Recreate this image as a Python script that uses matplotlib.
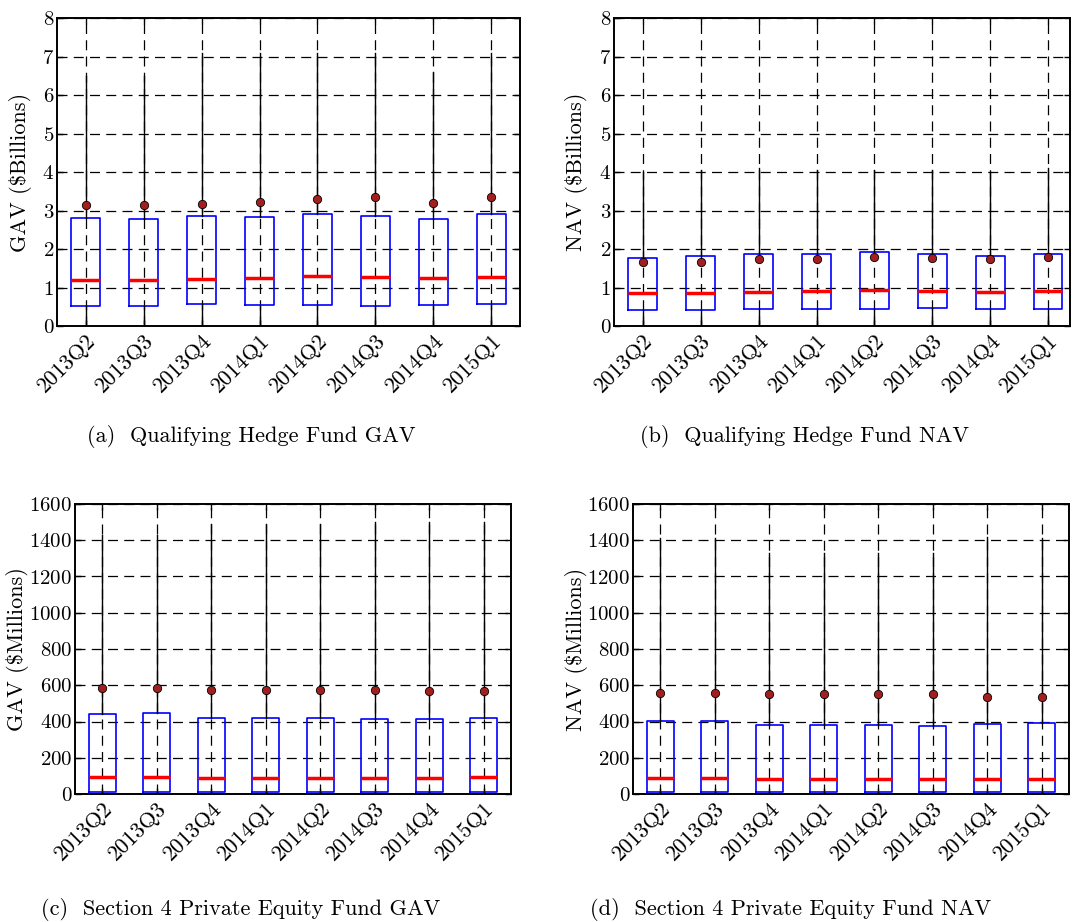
import numpy as np
import matplotlib
matplotlib.use('Agg')
import matplotlib.pyplot as plt

plt.rcParams['font.family'] = ['cmr10', 'DejaVu Serif']
plt.rcParams['axes.unicode_minus'] = False
plt.rcParams['axes.formatter.use_mathtext'] = True

# Data
quarters = ['2013Q2', '2013Q3', '2013Q4', '2014Q1', '2014Q2', '2014Q3', '2014Q4', '2015Q1']

# (a) Qualifying Hedge Fund GAV ($Billions)
hf_gav_low = [0, 0, 0, 0, 0, 0, 0, 0]
hf_gav_q1 = [0.53, 0.53, 0.56, 0.55, 0.55, 0.53, 0.55, 0.56]
hf_gav_med = [1.20, 1.20, 1.22, 1.25, 1.29, 1.28, 1.24, 1.26]
hf_gav_q3 = [2.81, 2.78, 2.85, 2.83, 2.91, 2.86, 2.77, 2.90]
hf_gav_high = [6.5, 6.5, 7.1, 7.1, 7.1, 7.1, 6.6, 7.1]
hf_gav_mean = [3.15, 3.13, 3.17, 3.22, 3.29, 3.35, 3.19, 3.36]

# (b) Qualifying Hedge Fund NAV ($Billions)
hf_nav_low = [0, 0, 0, 0, 0, 0, 0, 0]
hf_nav_q1 = [0.41, 0.41, 0.44, 0.45, 0.45, 0.46, 0.43, 0.44]
hf_nav_med = [0.85, 0.85, 0.88, 0.90, 0.94, 0.90, 0.89, 0.91]
hf_nav_q3 = [1.76, 1.82, 1.88, 1.87, 1.92, 1.88, 1.83, 1.88]
hf_nav_high = [4.0, 4.05, 4.1, 4.05, 4.05, 4.05, 4.0, 4.1]
hf_nav_mean = [1.65, 1.66, 1.75, 1.74, 1.79, 1.77, 1.73, 1.80]

# (c) Section 4 Private Equity Fund GAV ($Millions)
pe_gav_low = [0, 0, 0, 0, 0, 0, 0, 0]
pe_gav_q1 = [12, 12, 12, 12, 12, 12, 12, 12]
pe_gav_med = [94, 95, 88, 88, 88, 88, 90, 92]
pe_gav_q3 = [441, 446, 419, 417, 419, 415, 415, 417]
pe_gav_high = [1430, 1430, 1490, 1490, 1490, 1500, 1500, 1500]
pe_gav_mean = [586, 587, 576, 576, 576, 576, 567, 567]

# (d) Section 4 Private Equity Fund NAV ($Millions)
pe_nav_low = [0, 0, 0, 0, 0, 0, 0, 0]
pe_nav_q1 = [11, 11, 11, 11, 11, 11, 11, 11]
pe_nav_med = [88, 90, 81, 81, 81, 83, 83, 84]
pe_nav_q3 = [402, 405, 382, 378, 378, 376, 387, 389]
pe_nav_high = [1410, 1410, 1330, 1330, 1330, 1330, 1420, 1410]
pe_nav_mean = [556, 556, 549, 549, 549, 549, 536, 536]

FS = 16
W, H = 1073.0, 922.0


def make_stats(low, q1, med, q3, high, mean):
    return [dict(whislo=a, q1=b, med=c, q3=d, whishi=e, mean=f, label=lab, fliers=[])
            for a, b, c, d, e, f, lab in zip(low, q1, med, q3, high, mean, quarters)]


def draw_panel(ax, stats, ylim, yticks, ylabel, label_x, xright=8.5):
    ax.set_axisbelow(True)
    ax.grid(True, color='black', linestyle=(0, (8, 5)), linewidth=0.9)
    ax.bxp(stats, widths=0.5, showmeans=True, showcaps=False,
           boxprops=dict(color='blue', linewidth=1.2),
           medianprops=dict(color='red', linewidth=2.5),
           whiskerprops=dict(color='black', linewidth=1.0, linestyle='-'),
           meanprops=dict(marker='o', markerfacecolor='#a31f1f', markeredgecolor='black',
                          markeredgewidth=0.6, markersize=6))
    ax.set_xlim(0.5, xright)
    ax.set_ylim(*ylim)
    ax.set_yticks(yticks)
    ax.set_xticklabels(quarters, rotation=45, ha='right', rotation_mode='anchor', fontsize=FS)
    ax.tick_params(axis='y', labelsize=15, pad=2)
    ax.tick_params(direction='in', length=4, top=True, right=True, width=1)
    for s in ax.spines.values():
        s.set_linewidth(1.4)
    ax.set_ylabel(ylabel, fontsize=FS)
    ax.yaxis.set_label_coords(label_x, 0.5)


fig = plt.figure(figsize=(10.73, 9.22), dpi=100)

ax_a = fig.add_axes([57 / W, (H - 326) / H, 463 / W, 308 / H])
ax_b = fig.add_axes([614 / W, (H - 326) / H, 456 / W, 308 / H])
ax_c = fig.add_axes([75 / W, (H - 794) / H, 436 / W, 290 / H])
ax_d = fig.add_axes([633 / W, (H - 794) / H, 436 / W, 290 / H])

draw_panel(ax_a, make_stats(hf_gav_low, hf_gav_q1, hf_gav_med, hf_gav_q3, hf_gav_high, hf_gav_mean),
           (0, 8), range(0, 9), r'GAV (\$Billions)', -0.054)
draw_panel(ax_b, make_stats(hf_nav_low, hf_nav_q1, hf_nav_med, hf_nav_q3, hf_nav_high, hf_nav_mean),
           (0, 8), range(0, 9), r'NAV (\$Billions)', -0.057, xright=8.38)
draw_panel(ax_c, make_stats(pe_gav_low, pe_gav_q1, pe_gav_med, pe_gav_q3, pe_gav_high, pe_gav_mean),
           (0, 1600), range(0, 1601, 200), r'GAV (\$Millions)', -0.106)
draw_panel(ax_d, make_stats(pe_nav_low, pe_nav_q1, pe_nav_med, pe_nav_q3, pe_nav_high, pe_nav_mean),
           (0, 1600), range(0, 1601, 200), r'NAV (\$Millions)', -0.104)

# Sub-captions
fig.text(251 / W, 1 - 436 / H, '(a)  Qualifying Hedge Fund GAV', ha='center', va='center', fontsize=FS)
fig.text(805 / W, 1 - 436 / H, '(b)  Qualifying Hedge Fund NAV', ha='center', va='center', fontsize=FS)
fig.text(241 / W, 1 - 909 / H, '(c)  Section 4 Private Equity Fund GAV', ha='center', va='center', fontsize=FS)
fig.text(791 / W, 1 - 909 / H, '(d)  Section 4 Private Equity Fund NAV', ha='center', va='center', fontsize=FS)

fig.savefig('out.png', dpi=100)
